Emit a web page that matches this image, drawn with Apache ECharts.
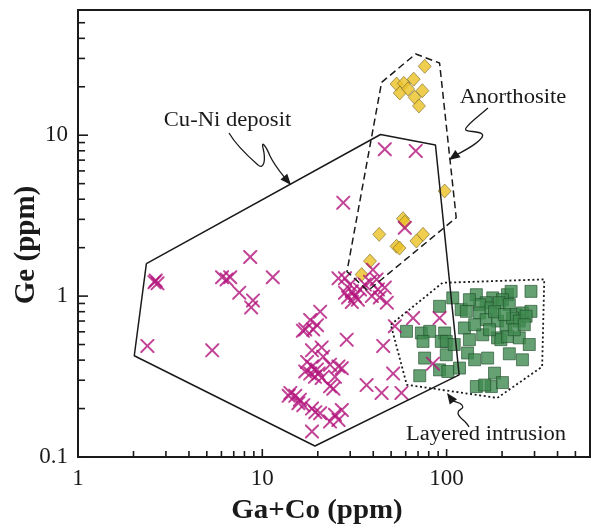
<!DOCTYPE html>
<html><head><meta charset="utf-8">
<script src="https://cdn.jsdelivr.net/npm/echarts@6/dist/echarts.min.js"></script>
<style>html,body{margin:0;padding:0;background:#fff}#c{width:593px;height:530px}</style>
</head><body><div id="c"></div>
<script>
// ---- axis ranges & ticks ----
const xRange = [1, 600];
const yRange = [0.1, 60];
const xMajorTicks = [1, 10, 100];
const xMinorTicks = [2,3,4,5,6,7,8,9,20,30,40,50,60,70,80,90,200,300,400,500];
const yMajorTicks = [0.1, 1, 10];
const yMinorTicks = [0.2,0.3,0.4,0.5,0.6,0.7,0.8,0.9,2,3,4,5,6,7,8,9,20,30,40,50];

// ---- data: [Ga+Co, Ge] ----
const cuNiDeposit = [
[2.64,1.25],[2.7,1.2],[2.6,1.22],[2.38,0.49],[5.35,0.46],
[6.05,1.31],[6.4,1.27],[6.7,1.31],[8.6,1.75],[11.4,1.31],[7.5,1.05],[8.9,0.94],[8.7,0.85],
[13.9,0.24],
[20.6,0.80],[18.2,0.71],[19.8,0.66],[17.1,0.62],[18.9,0.62],[18.6,0.46],[21,0.48],[21.4,0.42],
[17.5,0.39],[18.6,0.365],[19.8,0.35],[18.2,0.33],[19.3,0.315],[20.2,0.33],[21,0.31],[17.1,0.34],
[23.3,0.375],[25.9,0.365],[24.8,0.315],[23.3,0.275],[14.2,0.25],[15.1,0.24],[16,0.227],[15.7,0.216],
[16.7,0.21],[19.4,0.19],[20.6,0.187],[18.6,0.2],[24.8,0.183],[27,0.196],[25.9,0.17],[23.3,0.166],
[18.6,0.144],[28.7,0.536],[27,0.356],[24.3,0.266],[16.6,0.61],
[28.1,1.29],[29.9,1.18],[30.6,1.07],[31.8,1.0],[29.2,0.98],[33,0.95],[28.1,1.05],[33.9,1.1],
[30.6,0.92],[36,1.18],[25.9,1.29],
[38.4,1.23],[42.4,1.1],[46.2,1.13],[43.4,0.98],[47.4,0.91],[39.3,1.0],[39.8,1.46],[41.7,1.27],
[46.2,8.18],[68,7.98],[27.5,3.81],[59.3,2.66],
[65.8,0.73],[52.4,0.65],[91.6,0.73],[84.3,0.38],[51.3,0.33],[45.3,0.49],[36.8,0.28],[44.4,0.25],[56.9,0.25]
];
const anorthosite = [
[76.1,26.8],[53.5,20.8],[58.6,21],[66.3,22.3],[55.7,18.3],[61.8,19.4],[73.9,18.9],[67.1,17.2],[70.8,15.2],
[97.6,4.5],[58,3.03],[59.3,2.88],[43.1,2.42],[53.5,2.04],[55.5,1.99],[74.5,2.42],[68.6,2.2],[38.4,1.65],[34.6,1.36]
];
const layeredIntrusion = [
[145,1.02],[178,0.975],[214,1.02],[224,1.07],[287,1.07],[201,0.95],[164,0.91],[91.6,0.864],[108,0.975],
[120,0.824],[128,0.804],[151,0.885],[151,0.786],[174,0.845],[193,0.91],[219,0.885],[238,0.767],[258,0.786],
[287,0.804],[125,0.634],[164,0.714],[189,0.70],[210,0.65],[228,0.73],[248,0.70],[270,0.75],[60.6,0.604],
[73,0.59],[81,0.604],[97.6,0.59],[157,0.575],[189,0.55],[197,0.536],[214,0.56],[248,0.55],[281,0.5],
[74.5,0.523],[93.6,0.523],[99.6,0.523],[76,0.412],[99.6,0.432],[130,0.443],[142,0.402],[167,0.412],
[219,0.438],[258,0.402],[71.5,0.32],[91.6,0.348],[101.6,0.34],[117.5,0.357],[182,0.332],[145,0.274],
[175,0.274],[201,0.29],[161,0.28],
[133,0.95],[182,0.80],[206,0.767],[142,0.664],[171,0.618],[233,0.618],[264,0.664],[133,0.536],[110,0.5]
];

// ---- field outlines ----
const cuNiField = [[2.35,1.59],[43.8,10.1],[87,8.7],[117,0.324],[19.3,0.117],[2.02,0.426],[2.35,1.59]];
const anorthositeField = [[44.4,21.3],[68,32],[91.6,28.1],[112.8,3.07],[37.4,1.08],[28.8,1.42],[44.4,21.3]];
const layeredField = [[49.8,0.665],[95.1,1.21],[338.8,1.27],[330,0.364],[188.6,0.233],[60.8,0.281],[49.8,0.665]];

const FONT = "'Liberation Serif','Times New Roman',serif";
const INK = '#1a1a1a';

function tickLabel(v){
  const l = Math.log10(v);
  return Math.abs(l - Math.round(l)) < 1e-6 && v <= 100 ? String(+v.toPrecision(3)) : '';
}

const tickData = [];
xMajorTicks.forEach(v => tickData.push([v, yRange[0], 8, 0]));
xMinorTicks.forEach(v => tickData.push([v, yRange[0], 6, 0]));
yMajorTicks.forEach(v => tickData.push([xRange[0], v, 10, 1]));
yMinorTicks.forEach(v => tickData.push([xRange[0], v, 7, 1]));

const CROSS = 'path://M0,0 L2,0 L10,8 L18,0 L20,0 L20,2 L12,10 L20,18 L20,20 L18,20 L10,12 L2,20 L0,20 L0,18 L8,10 L0,2 Z';

function arrowHead(tip, from, len, hw){
  const dx = tip[0]-from[0], dy = tip[1]-from[1];
  const d = Math.hypot(dx, dy), ux = dx/d, uy = dy/d;
  const b = [tip[0]-ux*len, tip[1]-uy*len];
  return {type:'polygon', shape:{points:[tip,[b[0]-uy*hw,b[1]+ux*hw],[b[0]+uy*hw,b[1]-ux*hw]]}, style:{fill:INK}, z:100};
}
// start point followed by cubic segments [c1x,c1y,c2x,c2y,x,y]
function curves(start, segs){
  const out = []; let p = start;
  segs.forEach(s => {
    out.push({type:'bezierCurve', shape:{x1:p[0], y1:p[1], cpx1:s[0], cpy1:s[1], cpx2:s[2], cpy2:s[3], x2:s[4], y2:s[5]},
      style:{fill:null, stroke:INK, lineWidth:1.3}, z:100});
    p = [s[4], s[5]];
  });
  return out;
}
function label(text, x, y, size, sx){
  return {type:'text', x:x, y:y, scaleX:sx, style:{text:text, font: size+'px '+FONT, fill:INK, align:'center', verticalAlign:'middle'}, z:100};
}

const chart = echarts.init(document.getElementById('c'), null, {renderer:'canvas'});
chart.setOption({
  animation:false,
  backgroundColor:'#fff',
  grid:{left:78, right:2, top:10, bottom:73, show:true, borderColor:INK, borderWidth:2, backgroundColor:'transparent'},
  xAxis:{type:'log', logBase:10, min:xRange[0], max:xRange[1],
    axisLine:{show:false}, axisTick:{show:false}, splitLine:{show:false}, minorTick:{show:false},
    axisLabel:{formatter:tickLabel, fontFamily:FONT, fontSize:23, color:INK, margin:10, showMinLabel:true, showMaxLabel:true}},
  yAxis:{type:'log', logBase:10, min:yRange[0], max:yRange[1],
    axisLine:{show:false}, axisTick:{show:false}, splitLine:{show:false}, minorTick:{show:false},
    axisLabel:{formatter:tickLabel, fontFamily:FONT, fontSize:23, color:INK, margin:10, showMinLabel:true, showMaxLabel:true}},
  series:[
    {type:'scatter', name:'Layered intrusion', data:layeredIntrusion, symbol:'rect', symbolSize:12,
      itemStyle:{color:'#3f8a4f', borderColor:'#214d2c', borderWidth:0.8}, z:2},
    {type:'scatter', name:'Anorthosite', data:anorthosite, symbol:'diamond', symbolSize:[13,14],
      itemStyle:{color:'#eac123', borderColor:'#7a6a2a', borderWidth:0.8}, z:3},
    {type:'scatter', name:'Cu-Ni deposit', data:cuNiDeposit, symbol:CROSS, symbolSize:14,
      itemStyle:{color:'#b3147c'}, z:4},
    {type:'line', data:cuNiField, showSymbol:false, symbol:'none', lineStyle:{color:INK, width:1.5}, z:5},
    {type:'line', data:anorthositeField, showSymbol:false, symbol:'none', lineStyle:{color:INK, width:1.5, type:[7,4]}, z:5},
    {type:'line', data:layeredField, showSymbol:false, symbol:'none', lineStyle:{color:INK, width:1.8, type:[2,2.6]}, z:5},
    {type:'custom', data:tickData, silent:true, z:6,
      renderItem:function(params, api){
        const p = api.coord([api.value(0), api.value(1)]);
        const len = api.value(2), dir = api.value(3);
        const shape = dir === 0 ? {x1:p[0], y1:p[1], x2:p[0], y2:p[1]-len} : {x1:p[0], y1:p[1], x2:p[0]+len, y2:p[1]};
        return {type:'line', shape:shape, style:{stroke:INK, lineWidth:1.6}};
      }}
  ],
  graphic:[
    {type:'text', x:317, y:511, scaleX:1.07, style:{text:'Ga+Co (ppm)', font:'bold 27px '+FONT, fill:INK, align:'center', verticalAlign:'middle'}},
    {type:'text', x:27, y:245, rotation:Math.PI/2, style:{text:'Ge (ppm)', font:'bold 29px '+FONT, fill:INK, align:'center', verticalAlign:'middle'}},
    label('Cu-Ni deposit', 227.5, 121, 20, 1.13),
    label('Anorthosite', 513, 98, 20, 1.13),
    label('Layered intrusion', 486, 435, 20, 1.13)
  ].concat(
    curves([229,133], [[236,145,250,158,258,165],[264,170,266,160,263,148],[261,140,266,146,270,156],[275,166,281,173,285,178]]),
    [arrowHead([291,185],[285,178],11,4.5)],
    curves([488,108], [[480,115,470,122,466,128],[463,133,478,130,482,134],[486,138,470,148,456,155]]),
    [arrowHead([449,160],[456,155],11,4.5)],
    curves([469,427], [[466,420,458,418,458,413],[458,408,465,410,462,405],[459,401,455,403,452,400]]),
    [arrowHead([447,393],[452,400],11,4.5)]
  )
});
</script>
</body></html>
